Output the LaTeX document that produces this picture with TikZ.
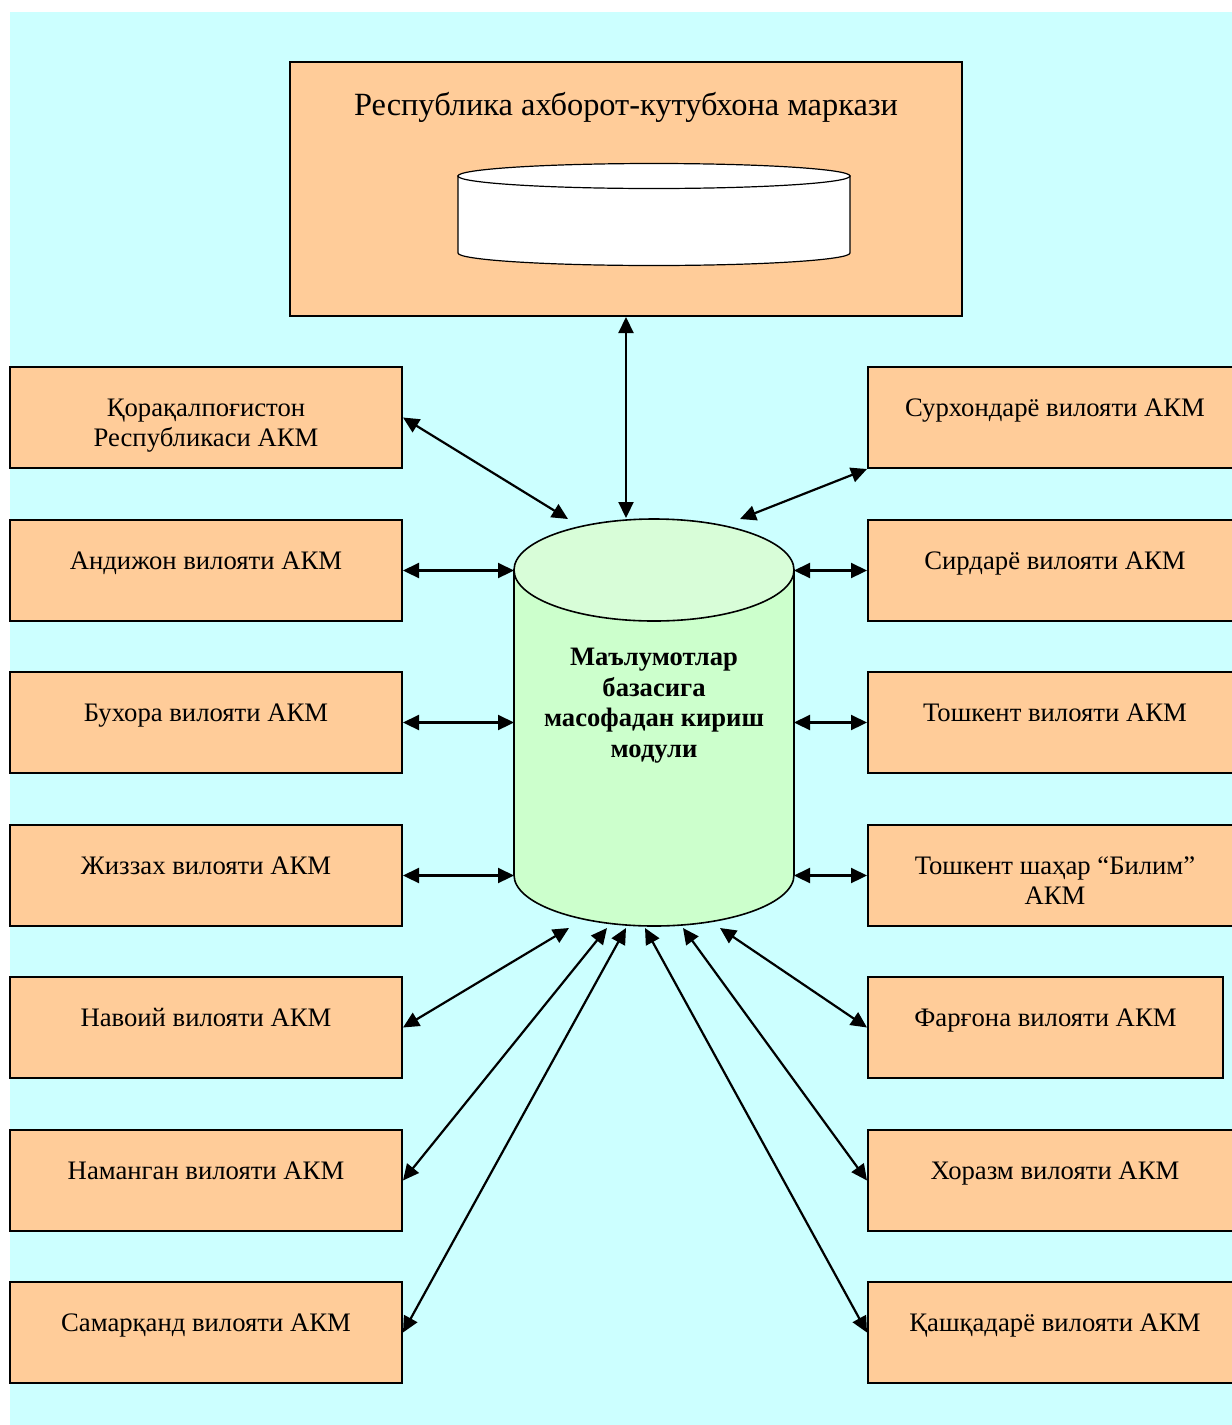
\documentclass[tikz,border=0pt]{standalone}
\usepackage{fontspec}
\setmainfont{Liberation Serif}
\usepackage{tikz}
\usetikzlibrary{arrows.meta,%
		calc,%
		positioning}

\definecolor{sfondo}{HTML}{CCFFFF}
\definecolor{pesca}{HTML}{FFCC99}
\definecolor{verde}{HTML}{CCFFCC}
\definecolor{verdetop}{HTML}{D8FDD8}

\tikzset{
	akm/.style={draw, line width=1pt, fill=pesca, minimum width=196pt, minimum height=50.5pt, inner sep=0pt},
	akmd/.style={akm, minimum width=187pt},
	lbl/.style={anchor=base, yshift=-25pt, align=center, font=\fontsize{13.35}{15}\selectfont},
	cil/.style={draw, line width=0.8pt},
	bidir/.style={{Triangle[length=8pt,width=7.5pt]}-{Triangle[length=8pt,width=7.5pt]}, line width=1.1pt}
}

\begin{document}
\begin{tikzpicture}[x=0.5pt,y=-0.5pt]
\useasboundingbox (0,0) rectangle (1232,1425);
\clip (0,0) rectangle (1232,1425);
\fill[sfondo] (10,12) rectangle (1232,1425);

%centro repubblicano
\node[akm, minimum width=336pt, minimum height=127pt,
	label={[lbl, yshift=-2pt, font=\fontsize{16.2}{19}\selectfont]north:Республика ахборот-кутубхона маркази}] (rakm) at (626,189) {};
\draw[line width=0.6pt, fill=white] (458,176) -- (458,253) arc[start angle=180, end angle=0, x radius=196, y radius=12.5] -- (850,176) -- cycle;
\draw[line width=0.6pt, fill=white] (654,176) ellipse[x radius=196, y radius=12.5];

%modulo di accesso
\draw[cil, fill=verde] (514,570) -- (514,875) arc[start angle=180, end angle=0, x radius=140, y radius=51] -- (794,570) -- cycle;
\draw[cil, fill=verdetop] (654,570) ellipse[x radius=140, y radius=51];
\node[anchor=base, align=center, font=\bfseries\fontsize{13.3}{15.25}\selectfont] (db) at (654,757) {Маълумотлар\\базасига\\масофадан кириш\\модули};

%province a sinistra
\node[akm, label={[lbl, yshift=-15pt]north:Қорақалпоғистон\\Республикаси АКМ}] (qq) at (206,417.5) {};
\node[akm, label={[lbl]north:Андижон вилояти АКМ}] (and) at (206,570.5) {};
\node[akm, label={[lbl]north:Бухора вилояти АКМ}] (bux) at (206,722.5) {};
\node[akm, label={[lbl]north:Жиззах вилояти АКМ}] (jiz) at (206,875.5) {};
\node[akm, label={[lbl]north:Навоий вилояти АКМ}] (nav) at (206,1027.5) {};
\node[akm, label={[lbl]north:Наманган вилояти АКМ}] (nam) at (206,1180.5) {};
\node[akm, label={[lbl]north:Самарқанд вилояти АКМ}] (sam) at (206,1332.5) {};

%province a destra
\node[akmd, label={[lbl]north:Сурхондарё вилояти АКМ}] (sur) at (1055,417.5) {};
\node[akmd, label={[lbl]north:Сирдарё вилояти АКМ}] (sir) at (1055,570.5) {};
\node[akmd, label={[lbl]north:Тошкент вилояти АКМ}] (tosh) at (1055,722.5) {};
\node[akmd, label={[lbl, yshift=-15pt]north:Тошкент шаҳар “Билим”\\АКМ}] (toshsh) at (1055,875.5) {};
\node[akm, minimum width=177.5pt, label={[lbl]north:Фарғона вилояти АКМ}] (far) at (1045.5,1027.5) {};
\node[akmd, label={[lbl]north:Хоразм вилояти АКМ}] (xor) at (1055,1180.5) {};
\node[akmd, label={[lbl]north:Қашқадарё вилояти АКМ}] (qash) at (1055,1332.5) {};

%punti sul cilindro
\coordinate (dbO) at (514,722);
\coordinate (dbE) at (794,722);
\coordinate (N1) at (568,519);
\coordinate (N2) at (626,518);
\coordinate (N3) at (740,519);
\coordinate (S1) at (569,928);
\coordinate (S2) at (607,928);
\coordinate (S3) at (626,928);
\coordinate (S4) at (645,928);
\coordinate (S5) at (683,928);
\coordinate (S6) at (720,928);

%collegamenti
\draw[bidir] (rakm.south) -- (N2);
\draw[bidir] (qq.east) -- (N1);
\draw[bidir] (sur.south west) -- (N3);
\draw[bidir] (and.east) -- (and.east -| dbO);
\draw[bidir] (bux.east) -- (bux.east -| dbO);
\draw[bidir] (jiz.east) -- (jiz.east -| dbO);
\draw[bidir] (sir.west) -- (sir.west -| dbE);
\draw[bidir] (tosh.west) -- (tosh.west -| dbE);
\draw[bidir] (toshsh.west) -- (toshsh.west -| dbE);
\draw[bidir] (nav.east) -- (S1);
\draw[bidir] (nam.east) -- (S2);
\draw[bidir] (sam.east) -- (S3);
\draw[bidir] (qash.west) -- (S4);
\draw[bidir] (xor.west) -- (S5);
\draw[bidir] (far.west) -- (S6);
\end{tikzpicture}
\end{document}
